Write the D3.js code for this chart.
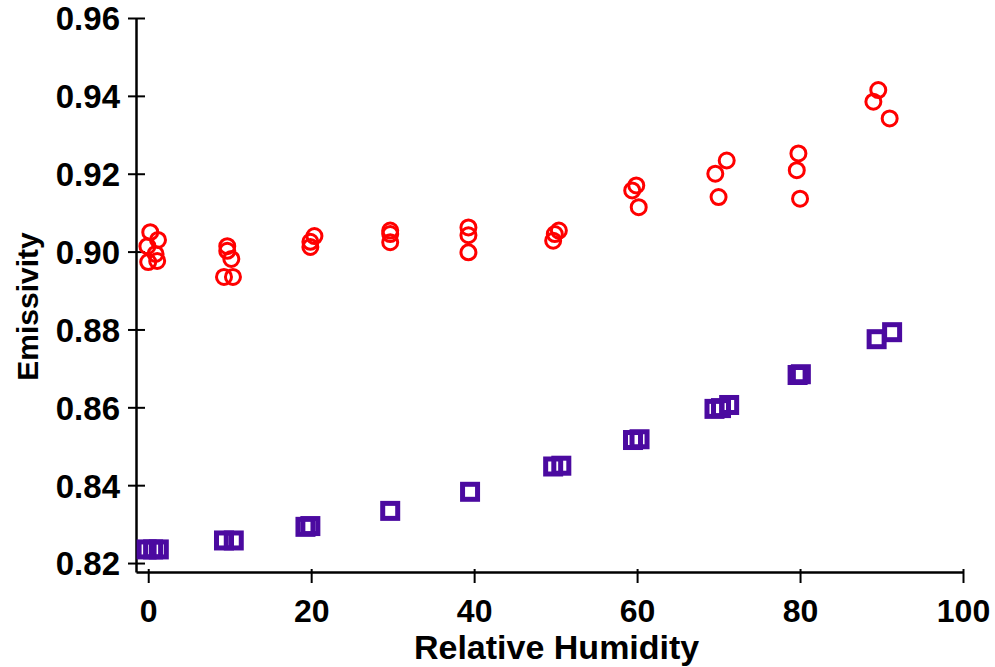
<!DOCTYPE html>
<html>
<head>
<meta charset="utf-8">
<script src="https://cdn.jsdelivr.net/npm/d3@7"></script>
<style>
html,body{margin:0;padding:0;background:#fff;}
svg{display:block;}
text{font-family:"Liberation Sans",Arial,Helvetica,sans-serif;font-weight:bold;fill:#000;}
</style>
</head>
<body>
<svg id="chart" width="995" height="667"></svg>
<script>
// Red circles series (Relative Humidity, Emissivity)
const circleRH = [0.25, 1.2, -0.1, 0.9, 0.0, 1.1,
  9.7, 9.7, 10.2, 9.3, 10.4,
  20.4, 19.9, 19.9,
  29.7, 29.7, 29.7,
  39.3, 39.3, 39.3,
  50.4, 49.9, 49.7,
  59.9, 59.4, 60.2,
  71.0, 69.6, 70.0,
  79.8, 79.6, 80.0,
  89.6, 89.0, 91.0];
const circleE = [0.9050, 0.9030, 0.9014, 0.8994, 0.8973, 0.8976,
  0.9014, 0.9002, 0.8981, 0.8935, 0.8935,
  0.9040, 0.9025, 0.9012,
  0.9054, 0.9045, 0.9024,
  0.9062, 0.9042, 0.8998,
  0.9054, 0.9045, 0.9028,
  0.9170, 0.9157, 0.9114,
  0.9234, 0.9200, 0.9140,
  0.9252, 0.9209, 0.9136,
  0.9415, 0.9385, 0.9342];
// Purple squares series
const squareRH = [-0.2, 0.6, 1.3,
  9.3, 10.5,
  19.3, 19.9,
  29.7,
  39.5,
  49.7, 50.7,
  59.5, 60.3,
  69.5, 70.3, 71.3,
  79.7, 80.1,
  89.4, 91.3];
const squareE = [0.8235, 0.8235, 0.8235,
  0.8258, 0.8258,
  0.8293, 0.8295,
  0.8334,
  0.8383,
  0.8448, 0.8450,
  0.8516, 0.8518,
  0.8596, 0.8598, 0.8606,
  0.8683, 0.8685,
  0.8775, 0.8793];

const xTicks = [0, 20, 40, 60, 80, 100];
const yTicks = [0.82, 0.84, 0.86, 0.88, 0.90, 0.92, 0.94, 0.96];
const xTitle = "Relative Humidity";
const yTitle = "Emissivity";

const svg = d3.select("#chart");
const x = d3.scaleLinear().domain([-1.5, 100]).range([136, 963]);
const y = d3.scaleLinear().domain([0.8177, 0.96]).range([572, 18]);

// Axes
const xAxis = d3.axisBottom(x).tickValues(xTicks).tickFormat(d3.format("d"))
  .tickSizeInner(11).tickSizeOuter(0).tickPadding(16);
const yAxis = d3.axisLeft(y).tickValues(yTicks).tickFormat(d3.format(".2f"))
  .tickSizeInner(8).tickSizeOuter(0).tickPadding(8);

const gx = svg.append("g").attr("transform", `translate(0,${y.range()[0]})`).call(xAxis);
const gy = svg.append("g").attr("transform", `translate(${x.range()[0]},0)`).call(yAxis);

[gx, gy].forEach(g => {
  g.select(".domain").attr("stroke", "#000").attr("stroke-width", 2.5);
  g.selectAll(".tick line").attr("stroke", "#000").attr("stroke-width", 2);
});
// ticks crossing the axis
gx.selectAll(".tick line").attr("y1", -3).attr("y2", 11);
gy.selectAll(".tick line").attr("x1", 9).attr("x2", -8);
gx.selectAll(".tick text").style("font-size", "32px").attr("font-family", null);
gy.selectAll(".tick text").style("font-size", "33px").attr("font-family", null).attr("dy", "0.36em");

// Titles
svg.append("text").attr("x", (x(0) + x(100)) / 2 + 1).attr("y", 659)
  .attr("text-anchor", "middle").style("font-size", "34px").text(xTitle);
svg.append("text").attr("transform", `translate(38,${(y(0.96) + y(0.82)) / 2 + 16}) rotate(-90)`)
  .attr("text-anchor", "middle").style("font-size", "30px").text(yTitle);

// Squares
const sq = 15;
svg.append("g").selectAll("rect").data(squareRH).join("rect")
  .attr("x", (d) => x(d) - sq / 2)
  .attr("y", (d, i) => y(squareE[i]) - sq / 2)
  .attr("width", sq).attr("height", sq)
  .attr("fill", "none").attr("stroke", "#4b0aa0").attr("stroke-width", 5);

// Circles
svg.append("g").selectAll("circle").data(circleRH).join("circle")
  .attr("cx", (d) => x(d))
  .attr("cy", (d, i) => y(circleE[i]))
  .attr("r", 7.5)
  .attr("fill", "none").attr("stroke", "#ff0000").attr("stroke-width", 3);
</script>
</body>
</html>
